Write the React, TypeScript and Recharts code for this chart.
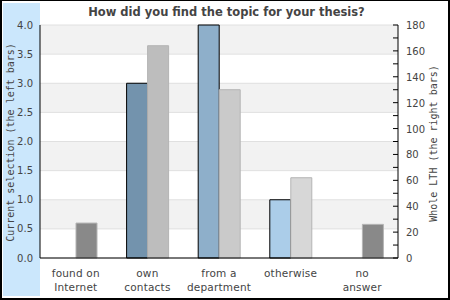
import React from 'react';
import { BarChart, Bar, XAxis, YAxis, CartesianGrid, Cell } from 'recharts';

const categories = ['found on\nInternet', 'own\ncontacts', 'from a\ndepartment', 'otherwise', 'no\nanswer'];
const selection = [0, 3, 4, 1, 0];
const wholeLth = [27, 164, 130, 62, 26];
const leftTicks = [0, 0.5, 1, 1.5, 2, 2.5, 3, 3.5, 4];
const rightTicks = [0, 10, 20, 30, 40, 50, 60, 70, 80, 90, 100, 110, 120, 130, 140, 150, 160, 170, 180];
const leftColors = ['#7393ad', '#7393ad', '#8eafca', '#abcde9', '#abcde9'];
const rightColors = ['#898989', '#bdbdbd', '#cacaca', '#d7d7d7', '#898989'];

const data = categories.map((c, i) => ({ cat: c, sel: selection[i], lth: wholeLth[i] }));

const FONT = '"DejaVu Sans", sans-serif';
const MONO = '"DejaVu Sans Mono", monospace';
const RIGHT_MARGIN = 8;

const XTick = (props: any) => {
  const { x, y, payload } = props;
  const lines = String(payload.value).split('\n');
  return (
    <g>
      {lines.map((l, i) => (
        <text key={i} x={x} y={y + 15 + i * 14} textAnchor="middle" fontFamily={FONT} fontSize={10.5} letterSpacing={0.2} fill="#444">
          {l}
        </text>
      ))}
    </g>
  );
};

const RightTick = (props: any) => {
  const { x, y, payload } = props;
  const axisX = x - RIGHT_MARGIN;
  const v = payload.value;
  return (
    <g>
      <line x1={axisX - 5} x2={axisX} y1={y} y2={y} stroke="#000" strokeWidth={1} />
      {v % 20 === 0 ? (
        <text x={x} y={y} dy={4} textAnchor="start" fontFamily={FONT} fontSize={10} fill="#444">
          {v}
        </text>
      ) : null}
    </g>
  );
};

const LeftLabel = (props: any) => {
  const vb = props.viewBox;
  const cx = 10;
  const cy = vb.y + vb.height / 2 + 1;
  return (
    <text x={cx} y={cy} transform={`rotate(-90 ${cx} ${cy})`} textAnchor="middle" dominantBaseline="central" fontFamily={MONO} fontSize={10} fill="#444">
      Current selection (the left bars)
    </text>
  );
};

const RightLabel = (props: any) => {
  const vb = props.viewBox;
  const cx = 433;
  const cy = vb.y + vb.height / 2 + 2;
  return (
    <text x={cx} y={cy} transform={`rotate(-90 ${cx} ${cy})`} textAnchor="middle" dominantBaseline="central" fontFamily={MONO} fontSize={10} fill="#444">
      Whole LTH (the right bars)
    </text>
  );
};

export default function App() {
  return (
    <div style={{ position: 'absolute', left: 0, top: 0, width: 450, height: 300, background: '#fff' }}>
      <div style={{ position: 'absolute', left: 0, top: 0, width: 450, height: 300, boxSizing: 'border-box', borderTop: '1px solid #000', borderLeft: '2px solid #000', borderRight: '2px solid #000', borderBottom: '2px solid #000' }} />
      <div style={{ position: 'absolute', left: 3, top: 3, width: 37, height: 293, background: '#cbe7fc' }} />
      <div style={{ position: 'absolute', left: 0, top: 4, width: 453, textAlign: 'center', fontFamily: FONT, fontWeight: 'bold', fontSize: 11.5, lineHeight: '16px', color: '#444' }}>
        How did you find the topic for your thesis?
      </div>
      <div style={{ position: 'absolute', left: 0, top: 0 }}>
        <BarChart width={450} height={300} data={data} margin={{ top: 25, right: 0, bottom: 0, left: 0 }} barGap={0} barSize={21}>
          <CartesianGrid yAxisId="left" vertical={false} stroke="#e0e0e0" horizontalFill={['#f2f2f2', '#ffffff']} fillOpacity={1} />
          <XAxis dataKey="cat" height={42} tick={<XTick />} tickLine={false} axisLine={{ stroke: '#000' }} interval={0} tickSize={0} tickMargin={4} />
          <XAxis xAxisId="top" orientation="top" dataKey="cat" height={0} tick={false} tickLine={false} axisLine={{ stroke: '#000' }} />
          <YAxis yAxisId="left" width={40} domain={[0, 4]} ticks={leftTicks} interval={0} tickLine={false} tickSize={0} tickMargin={7}
            axisLine={{ stroke: '#000' }} tickFormatter={(v: number) => v.toFixed(1)}
            tick={{ fontFamily: FONT, fontSize: 10, fill: '#444' }} label={<LeftLabel />} />
          <YAxis yAxisId="right" orientation="right" width={52} domain={[0, 180]} ticks={rightTicks} interval={0} tickLine={false} tickSize={0} tickMargin={RIGHT_MARGIN}
            axisLine={{ stroke: '#000' }} tick={<RightTick />} label={<RightLabel />} />
          <Bar yAxisId="left" dataKey="sel" stroke="#000" strokeWidth={1} isAnimationActive={false}>
            {data.map((d, i) => <Cell key={i} fill={leftColors[i]} />)}
          </Bar>
          <Bar yAxisId="right" dataKey="lth" stroke="#b4b4b4" strokeWidth={1} isAnimationActive={false}>
            {data.map((d, i) => <Cell key={i} fill={rightColors[i]} />)}
          </Bar>
        </BarChart>
      </div>
    </div>
  );
}
